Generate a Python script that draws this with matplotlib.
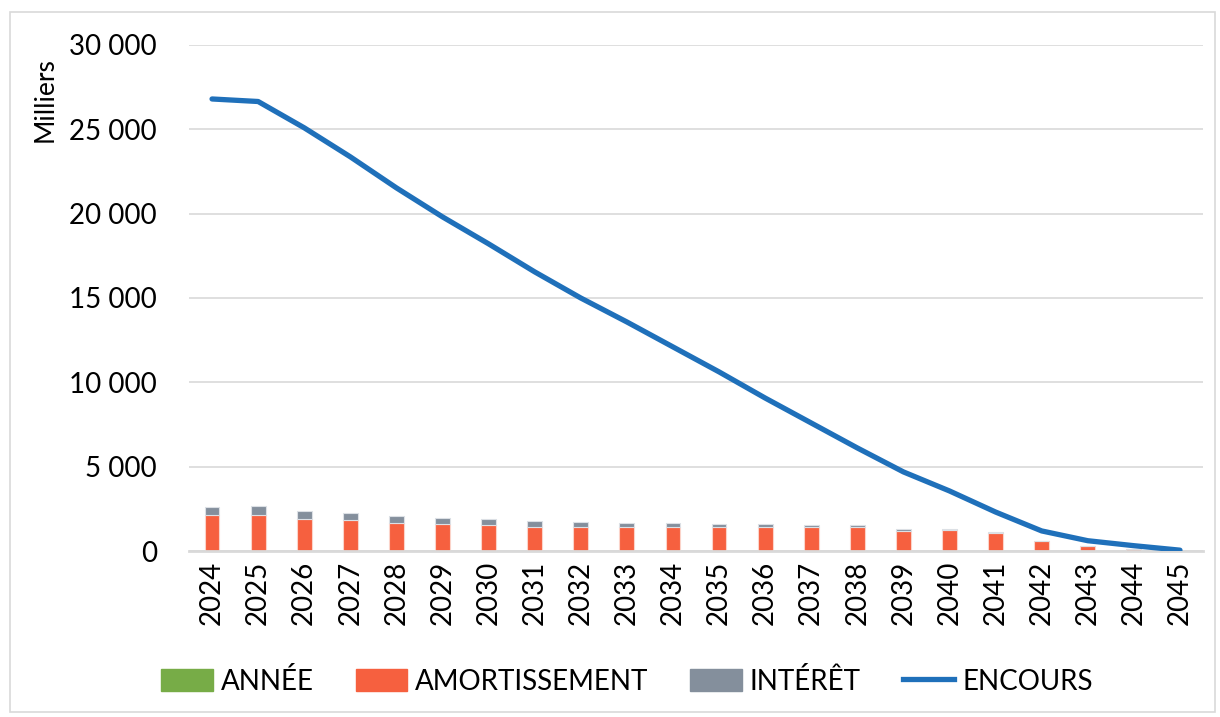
import matplotlib
matplotlib.use("Agg")
import matplotlib.pyplot as plt
from matplotlib.patches import Patch, Rectangle
from matplotlib.lines import Line2D
import numpy as np

plt.rcParams['font.family'] = ['Lato', 'DejaVu Sans']

# values in thousands
years = [str(y) for y in range(2024, 2046)]
amortissement = [2120, 2120, 1900, 1820, 1680, 1580, 1560, 1440, 1400, 1400, 1420,
                 1440, 1420, 1420, 1440, 1170, 1230, 1050, 590, 300, 100, 0]
interet = [470, 550, 470, 430, 410, 380, 320, 340, 300, 260, 220,
           180, 180, 140, 120, 120, 60, 80, 0, 0, 0, 0]
encours = [26800, 26650, 25090, 23370, 21530, 19810, 18210, 16550, 15000, 13580, 12100,
           10620, 9070, 7590, 6110, 4690, 3560, 2310, 1190, 610, 315, 50]
yticks = [0, 5000, 10000, 15000, 20000, 25000, 30000]

c_annee = '#77AC47'
c_amort = '#F6603F'
c_int = '#848F9C'
c_enc = '#1F70BA'

fig = plt.figure(figsize=(12.2, 7.17), dpi=100)
ax = fig.add_axes([189/1220, 1 - 551/717, (1203-189)/1220, (551-45)/717])

x = np.arange(len(years))
ax.bar(x, amortissement, width=0.32, color=c_amort, edgecolor='#FBD3C9', linewidth=0.8, zorder=2)
ax.bar(x, interet, width=0.32, bottom=amortissement, color=c_int, edgecolor='#DCE0E5',
       linewidth=0.8, zorder=2)
ax.plot(x, encours, color=c_enc, linewidth=3.8, solid_capstyle='round', zorder=3)

ax.set_xlim(-0.5, len(years) - 0.5)
ax.set_ylim(0, 30000)
ax.set_yticks(yticks)
ax.set_yticklabels([f"{v:,}".replace(",", " ") for v in yticks], fontsize=20)
ax.set_xticks(x)
ax.set_xticklabels(years, rotation=90, fontsize=20)
ax.tick_params(axis='y', length=0, pad=23)
ax.tick_params(axis='x', length=0, pad=7)
ax.yaxis.grid(True, color='#D9D9D9', linewidth=1.2, zorder=0)
ax.set_axisbelow(True)
for s in ['left', 'right', 'top']:
    ax.spines[s].set_visible(False)
ax.spines['bottom'].set_color('#D9D9D9')
ax.spines['bottom'].set_linewidth(2)

fig.text(45/1220, 1 - 100/717, 'Milliers', rotation=90, fontsize=19, ha='center', va='center')

handles = [Patch(color=c_annee), Patch(color=c_amort), Patch(color=c_int),
           Line2D([0], [0], color=c_enc, linewidth=3.8)]
labels = ['ANNÉE', 'AMORTISSEMENT', 'INTÉRÊT', 'ENCOURS']
fig.legend(handles, labels, loc='center', bbox_to_anchor=(627/1220, 1 - 681/717), ncol=4,
           frameon=False, fontsize=20, handlelength=1.85, handleheight=0.85,
           handletextpad=0.3, columnspacing=1.5)

fig.patches.append(Rectangle((10/1220, 5/717), 1205/1220, 700/717, transform=fig.transFigure,
                             fill=False, edgecolor='#D9D9D9', linewidth=1.2))

fig.savefig('out.png', dpi=100)
